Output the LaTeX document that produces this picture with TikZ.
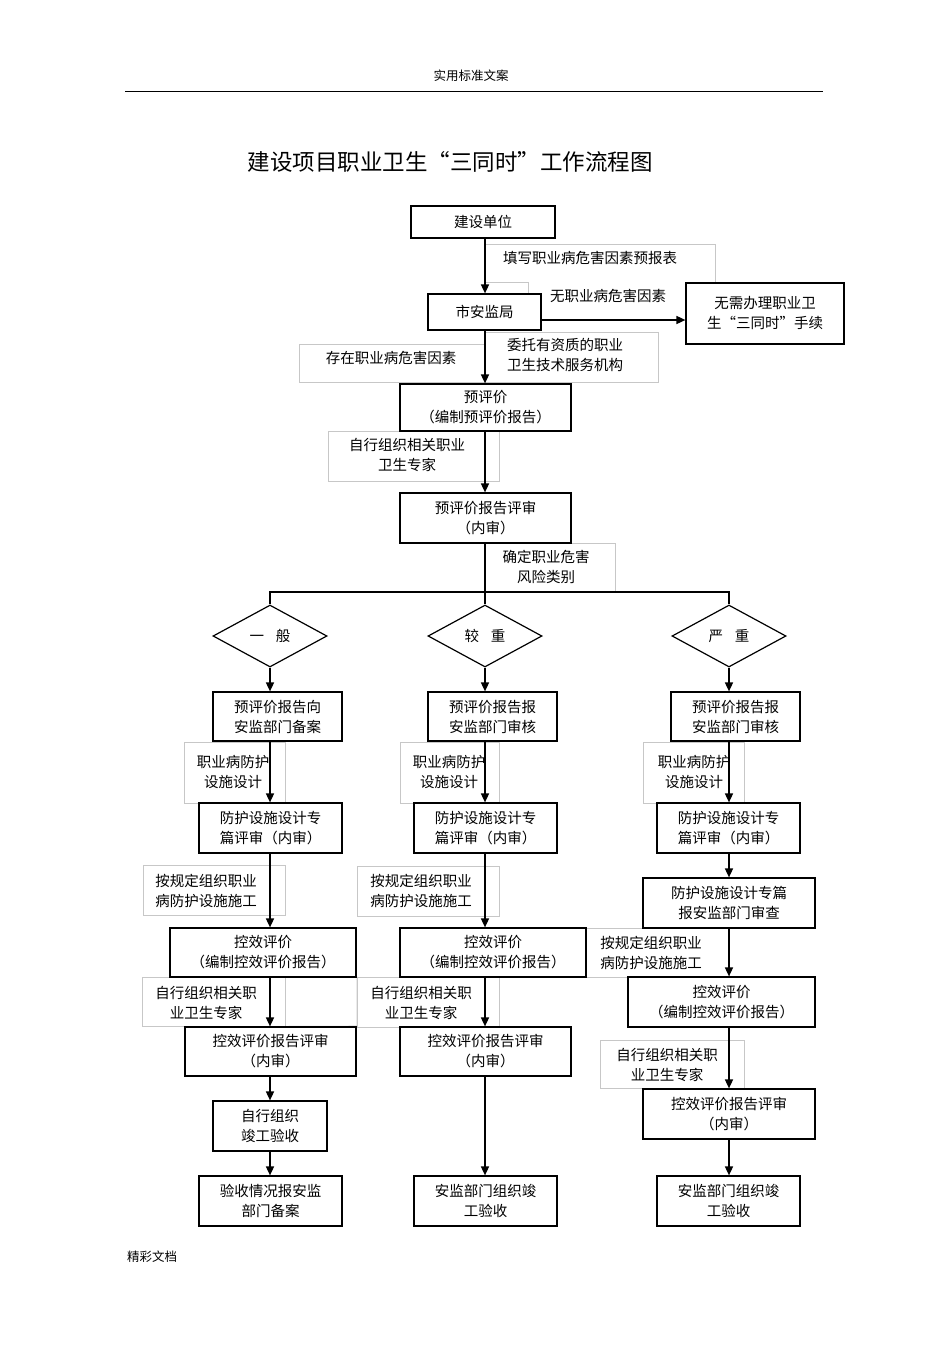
\documentclass[tikz,border=0pt]{standalone}
\usepackage{fontspec}
\setmainfont{Noto Sans CJK SC}
\usetikzlibrary{arrows.meta,shapes.geometric}
\newcommand\boxfont{\fontsize{14.5}{20}\selectfont}
\tikzset{
  box/.style={draw=black, fill=white, line width=1.2pt, inner sep=0pt, align=center, font=\boxfont},
  lbl/.style={draw=black!22, line width=0.6pt, inner sep=0pt},
  plain/.style={inner sep=0pt, align=center, font=\boxfont},
  arr/.style={line width=1.6pt, -{Triangle[length=9pt,width=8pt]}},
  conn/.style={line width=1.3pt},
  faint/.style={draw=black!22, line width=0.6pt},
  dia/.style={diamond, draw=black, fill=white, line width=1.2pt, minimum width=114pt, minimum height=62pt, inner sep=0pt, font=\boxfont},
}
\begin{document}
\begin{tikzpicture}[x=1pt,y=-1pt]
\fill[white] (0,0) rectangle (950,1345);
\useasboundingbox (0,0) rectangle (950,1345);

% header / title / footer
\node[inner sep=0pt, font=\fontsize{12.5}{15}\selectfont] (hdr) at (471,76) {实用标准文案};
\draw[line width=1pt] (125,91) -- (823,91);
\node[inner sep=0pt, font=\fontsize{22.5}{26}\selectfont] (title) at (450,162) {建设项目职业卫生“三同时”工作流程图};
\node[inner sep=0pt, font=\fontsize{12.5}{15}\selectfont] (ftr) at (152,1257) {精彩文档};

% ---------- gray label boxes ----------
\node[inner sep=0pt, minimum width=230pt, minimum height=38pt] (L1) at (600,263) {};
\draw[faint] (L1.north west) -- (L1.north east) -- (L1.south east);
\draw[faint] (L1.south west) -- ++(43,0) -- ++(0,16);
\node[plain] (L1t) at (590,258) {填写职业病危害因素预报表};
\node[plain] (L2) at (608,296) {无职业病危害因素};
\node[lbl, minimum width=186pt, minimum height=38pt] (L3) at (392,363) {};
\node[plain] (L3t) at (391,358) {存在职业病危害因素};
\node[lbl, minimum width=173pt, minimum height=50pt] (L4) at (571.5,357) {};
\node[plain] (L4t) at (565,355) {委托有资质的职业\\卫生技术服务机构};
\node[lbl, minimum width=171pt, minimum height=50pt] (L5) at (413.5,456) {};
\node[plain] (L5t) at (407,455) {自行组织相关职业\\卫生专家};
\node[lbl, minimum width=130pt, minimum height=49pt] (L6) at (550,567.5) {};
\node[plain] (L6t) at (546,567) {确定职业危害\\风险类别};

\node[lbl, minimum width=101pt, minimum height=61pt] (L1a) at (234.5,772.5) {};
\node[plain] (L1at) at (233,772) {职业病防护\\设施设计};
\node[lbl, minimum width=99pt, minimum height=61pt] (L2a) at (449.5,772.5) {};
\node[plain] (L2at) at (449,772) {职业病防护\\设施设计};
\node[lbl, minimum width=101pt, minimum height=61pt] (L3a) at (693.5,772.5) {};
\node[plain] (L3at) at (694,772) {职业病防护\\设施设计};

\node[lbl, minimum width=142pt, minimum height=50pt] (L1b) at (214,890.5) {};
\node[plain] (L1bt) at (206,891) {按规定组织职业\\病防护设施施工};
\node[lbl, minimum width=142pt, minimum height=50pt] (L2b) at (428,891) {};
\node[plain] (L2bt) at (421,891) {按规定组织职业\\病防护设施施工};
\node[lbl, minimum width=143pt, minimum height=49pt] (L3b) at (657.5,952.5) {};
\node[plain] (L3bt) at (651,953) {按规定组织职业\\病防护设施施工};

\node[lbl, minimum width=143pt, minimum height=49pt] (L1c) at (213.5,1001.5) {};
\draw[faint] (L1c.north east) -- (357,977) -- (357,1026) -- (L1c.south east);
\node[plain] (L1ct) at (206,1003) {自行组织相关职\\业卫生专家};
\node[lbl, minimum width=142pt, minimum height=50pt] (L2c) at (428,1002) {};
\node[plain] (L2ct) at (421,1003) {自行组织相关职\\业卫生专家};
\node[lbl, minimum width=144pt, minimum height=48pt] (L3c) at (672,1064) {};
\node[plain] (L3ct) at (667,1065) {自行组织相关职\\业卫生专家};

% ---------- main boxes ----------
\node[box, line width=2pt, minimum width=144pt, minimum height=32pt] (b1) at (483,222) {建设单位};
\node[box, minimum width=113pt, minimum height=36pt] (b2) at (484.5,312) {市安监局};
\node[box, minimum width=158pt, minimum height=61pt] (b3) at (765,313.5) {无需办理职业卫\\生“三同时”手续};
\node[box, minimum width=171pt, minimum height=47pt] (b4) at (485.5,407.5) {预评价\\（编制预评价报告）};
\node[box, minimum width=171pt, minimum height=50pt] (b5) at (485.5,518) {预评价报告评审\\（内审）};

\node[dia] (d1) at (270,636) {一\hspace{0.8em}般};
\node[dia] (d2) at (485,636) {较\hspace{0.8em}重};
\node[dia] (d3) at (729,636) {严\hspace{0.8em}重};
\coordinate (j) at (485,592);

% column 1
\node[box, minimum width=129pt, minimum height=49pt] (c1a) at (277.5,716.5) {预评价报告向\\安监部门备案};
\node[box, minimum width=143pt, minimum height=50pt] (c1b) at (270.5,828) {防护设施设计专\\篇评审（内审）};
\node[box, minimum width=186pt, minimum height=49pt] (c1c) at (263,952.5) {控效评价\\（编制控效评价报告）};
\node[box, minimum width=171pt, minimum height=49pt] (c1d) at (270.5,1051.5) {控效评价报告评审\\（内审）};
\node[box, minimum width=114pt, minimum height=50pt] (c1e) at (270,1126) {自行组织\\竣工验收};
\node[box, minimum width=143pt, minimum height=50pt] (c1f) at (270.5,1201) {验收情况报安监\\部门备案};

% column 2
\node[box, minimum width=129pt, minimum height=49pt] (c2a) at (492.5,716.5) {预评价报告报\\安监部门审核};
\node[box, minimum width=143pt, minimum height=50pt] (c2b) at (485.5,828) {防护设施设计专\\篇评审（内审）};
\node[box, minimum width=186pt, minimum height=49pt] (c2c) at (493,952.5) {控效评价\\（编制控效评价报告）};
\node[box, minimum width=171pt, minimum height=49pt] (c2d) at (485.5,1051.5) {控效评价报告评审\\（内审）};
\node[box, minimum width=143pt, minimum height=50pt] (c2e) at (485.5,1201) {安监部门组织竣\\工验收};

% column 3
\node[box, minimum width=129pt, minimum height=49pt] (c3a) at (735.5,716.5) {预评价报告报\\安监部门审核};
\node[box, minimum width=143pt, minimum height=50pt] (c3b) at (728.5,828) {防护设施设计专\\篇评审（内审）};
\node[box, minimum width=172pt, minimum height=50pt] (c3c) at (729,903) {防护设施设计专篇\\报安监部门审查};
\node[box, minimum width=187pt, minimum height=50pt] (c3d) at (721.5,1002) {控效评价\\（编制控效评价报告）};
\node[box, minimum width=172pt, minimum height=50pt] (c3e) at (729,1114) {控效评价报告评审\\（内审）};
\node[box, minimum width=143pt, minimum height=50pt] (c3f) at (728.5,1201) {安监部门组织竣\\工验收};

% ---------- connectors ----------
\draw[arr] (b1.south -| d2) -- (b2.north -| d2);
\draw[arr] ([yshift=-8pt]b2.east) -- ([yshift=-8pt]b2.east -| b3.west);
\draw[arr] (b2.south -| d2) -- (b4.north -| d2);
\draw[arr] (b4.south -| d2) -- (b5.north -| d2);
\draw[conn] (b5.south -| d2) -- (j);
\draw[conn] (d1.north) -- (d1.north |- j) -- (d3.north |- j) -- (d3.north);
\draw[conn] (j) -- (d2.north);

\draw[arr] (d1.south) -- (c1a.north -| d1);
\foreach \a/\b in {c1a/c1b, c1b/c1c, c1c/c1d, c1d/c1e, c1e/c1f}
  \draw[arr] (\a.south -| d1) -- (\b.north -| d1);
\draw[arr] (d2.south) -- (c2a.north -| d2);
\foreach \a/\b in {c2a/c2b, c2b/c2c, c2c/c2d, c2d/c2e}
  \draw[arr] (\a.south -| d2) -- (\b.north -| d2);
\draw[arr] (d3.south) -- (c3a.north -| d3);
\foreach \a/\b in {c3a/c3b, c3b/c3c, c3c/c3d, c3d/c3e, c3e/c3f}
  \draw[arr] (\a.south -| d3) -- (\b.north -| d3);
\end{tikzpicture}
\end{document}
